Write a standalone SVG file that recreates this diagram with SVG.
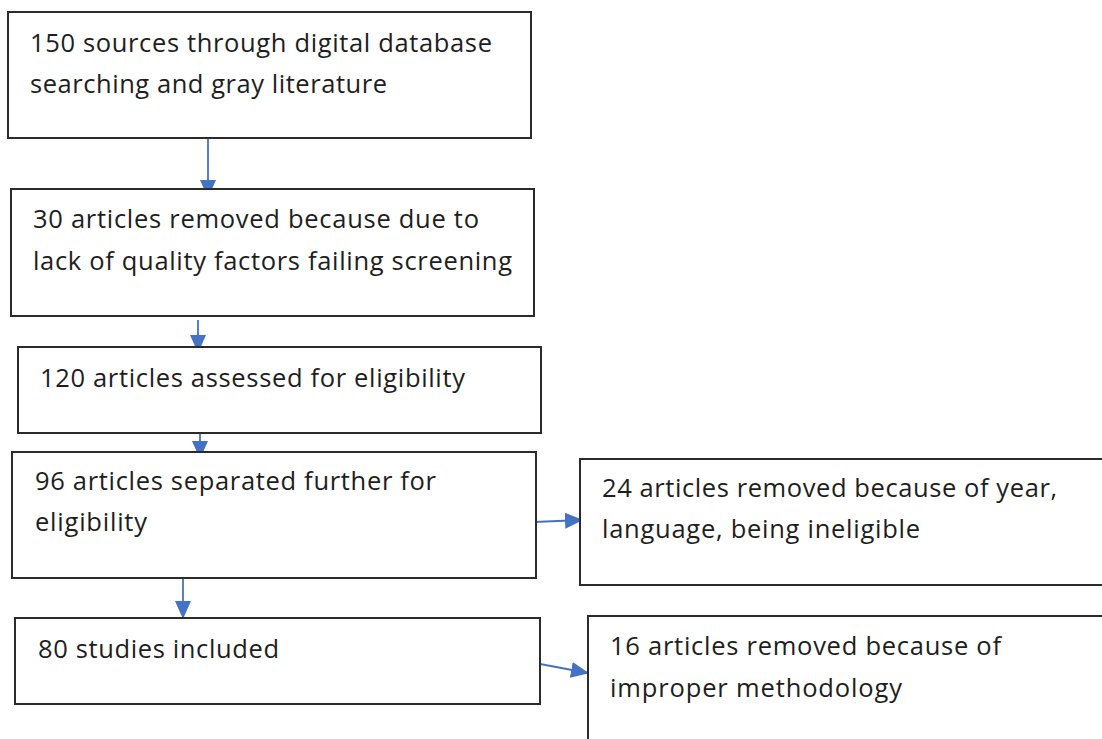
<svg xmlns="http://www.w3.org/2000/svg" width="1102" height="739" viewBox="0 0 1102 739">
<style>
.box{fill:#fff;stroke:#2b2b2b;stroke-width:2}
.t{font-family:"Open Sans","Liberation Sans",sans-serif;font-size:25.5px;fill:#1e1e1e}
.c{stroke:#4472c4;stroke-width:1.8;fill:none}
</style>
<defs>
<marker id="ahb" markerWidth="18" markerHeight="16" refX="17" refY="8" orient="auto" markerUnits="userSpaceOnUse" viewBox="0 0 18 16">
<path d="M0,0 L18,8 L0,16 z" fill="#4472c4"/>
</marker>
</defs>
<rect width="1102" height="739" fill="#fff"/>
<g id="connectors">
<path class="c" d="M208,138 V197" marker-end="url(#ahb)"/>
<path class="c" d="M198,320 V352" marker-end="url(#ahb)"/>
<path class="c" d="M200,433 V458" marker-end="url(#ahb)"/>
<path class="c" d="M183,579 V618" marker-end="url(#ahb)"/>
<path class="c" d="M534,522 L582,520" marker-end="url(#ahb)"/>
<path class="c" d="M540,664 L588,673" marker-end="url(#ahb)"/>
</g>
<g id="n1">
<rect class="box" x="8" y="12" width="523" height="126"/>
<text class="t" x="30" y="52" textLength="462">150 sources through digital database</text>
<text class="t" x="30" y="93" textLength="357">searching and gray literature</text>
</g>
<g id="n2">
<rect class="box" x="11" y="189" width="523" height="127"/>
<text class="t" x="33" y="228" textLength="446">30 articles removed because due to</text>
<text class="t" x="33" y="270" textLength="479">lack of quality factors failing screening</text>
</g>
<g id="n3">
<rect class="box" x="18" y="347" width="523" height="86"/>
<text class="t" x="40" y="387" textLength="425">120 articles assessed for eligibility</text>
</g>
<g id="n4">
<rect class="box" x="12" y="452" width="524" height="126"/>
<text class="t" x="35" y="490" textLength="401">96 articles separated further for</text>
<text class="t" x="35" y="531" textLength="112">eligibility</text>
</g>
<g id="n5">
<rect class="box" x="15" y="618" width="525" height="86"/>
<text class="t" x="38" y="658" textLength="241">80 studies included</text>
</g>
<g id="n6">
<rect class="box" x="580" y="459" width="540" height="126"/>
<text class="t" x="602" y="497" textLength="455">24 articles removed because of year,</text>
<text class="t" x="602" y="538" textLength="318">language, being ineligible</text>
</g>
<g id="n7">
<rect class="box" x="588" y="616" width="540" height="140"/>
<text class="t" x="610" y="655" textLength="391">16 articles removed because of</text>
<text class="t" x="610" y="697" textLength="292">improper methodology</text>
</g>
</svg>
